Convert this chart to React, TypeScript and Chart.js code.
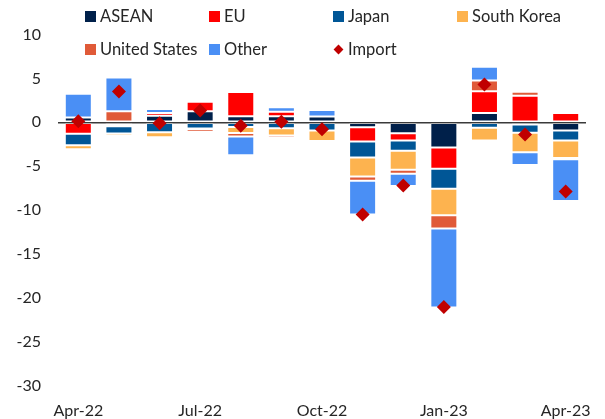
import React, { useEffect, useRef } from 'react';
import { Chart, registerables } from 'chart.js';

Chart.register(...registerables);

const months = ['Apr-22', 'May-22', 'Jun-22', 'Jul-22', 'Aug-22', 'Sep-22', 'Oct-22', 'Nov-22', 'Dec-22', 'Jan-23', 'Feb-23', 'Mar-23', 'Apr-23'];
const asean = [0.55, -0.3, 0.75, 1.25, 0.68, 0.68, 0.65, -0.57, -1.25, -2.88, 1.06, -0.25, -0.95];
const eu = [-1.3, -0.15, 0.3, 1.1, 2.77, 0.53, 0, -1.63, -0.83, -2.42, 2.46, 3.03, 1.06];
const japan = [-1.33, -0.83, -1.15, -0.7, -0.55, -0.68, -0.95, -1.82, -1.17, -2.27, -0.64, -0.95, -1.14];
const southKorea = [-0.45, -0.27, -0.55, -0.1, -0.68, -0.83, -1.2, -2.16, -2.16, -3.03, -1.44, -2.23, -1.97];
const unitedStates = [-0.05, 1.25, -0.05, -0.3, -0.38, -0.25, -0.1, -0.49, -0.45, -1.52, 1.25, 0.45, -0.15];
const other = [2.7, 3.85, 0.45, 0.1, -2.15, 0.5, 0.76, -3.83, -1.4, -8.98, 1.56, -1.44, -4.77];
const importTotal = [0.1, 3.5, -0.1, 1.35, -0.4, 0.05, -0.8, -10.5, -7.2, -21.05, 4.3, -1.4, -7.9];
const yTicks = [10, 5, 0, -5, -10, -15, -20, -25, -30];

const COLORS = {
  asean: '#00204a',
  eu: '#ff0000',
  japan: '#005696',
  southKorea: '#fdb34f',
  unitedStates: '#e05a38',
  other: '#4a8ff5',
  import: '#c00000',
};

const FONT_FAMILY = 'Lato, "Open Sans", sans-serif';
const TEXT_COLOR = '#262626';

const legendItems = [
  { label: 'ASEAN', color: COLORS.asean, col: 0, row: 0, diamond: false },
  { label: 'EU', color: COLORS.eu, col: 1, row: 0, diamond: false },
  { label: 'Japan', color: COLORS.japan, col: 2, row: 0, diamond: false },
  { label: 'South Korea', color: COLORS.southKorea, col: 3, row: 0, diamond: false },
  { label: 'United States', color: COLORS.unitedStates, col: 0, row: 1, diamond: false },
  { label: 'Other', color: COLORS.other, col: 1, row: 1, diamond: false },
  { label: 'Import', color: COLORS.import, col: 2, row: 1, diamond: true },
];

export default function App() {
  const ref = useRef<HTMLCanvasElement>(null);

  useEffect(() => {
    const canvas = ref.current;
    if (!canvas) return;
    const font = { family: FONT_FAMILY, size: 16 };
    const bar = (label: string, data: number[], color: string) => ({
      type: 'bar' as const,
      label,
      data,
      backgroundColor: color,
      borderColor: 'rgba(255,255,255,0.22)',
      borderWidth: 1,
      borderSkipped: false,
      stack: 'bars',
      order: 2,
      barPercentage: 0.665,
      categoryPercentage: 1,
    });
    const chart = new Chart(canvas, {
      type: 'bar',
      data: {
        labels: months,
        datasets: [
          bar('ASEAN', asean, COLORS.asean),
          bar('EU', eu, COLORS.eu),
          bar('Japan', japan, COLORS.japan),
          bar('South Korea', southKorea, COLORS.southKorea),
          bar('United States', unitedStates, COLORS.unitedStates),
          bar('Other', other, COLORS.other),
          {
            type: 'line' as const,
            label: 'Import',
            data: importTotal,
            showLine: false,
            pointStyle: 'rectRot',
            pointRadius: 7,
            pointHoverRadius: 7,
            pointBackgroundColor: COLORS.import,
            pointBorderColor: COLORS.import,
            pointBorderWidth: 0,
            stack: 'import',
            order: 0,
          } as any,
        ],
      },
      options: {
        responsive: false,
        animation: false,
        devicePixelRatio: 1,
        layout: { padding: { top: 34.5, right: 19, left: 0, bottom: 0 } },
        plugins: { legend: { display: false }, tooltip: { enabled: false } },
        scales: {
          x: {
            stacked: true,
            grid: { display: false },
            border: { display: false },
            ticks: {
              autoSkip: false,
              maxRotation: 0,
              minRotation: 0,
              padding: 8,
              font,
              color: TEXT_COLOR,
              callback: (_v: any, i: number) => (i % 3 === 0 ? months[i] : ''),
            },
            afterFit: (s: any) => {
              s.height = 33.5;
            },
          },
          y: {
            stacked: true,
            min: yTicks[yTicks.length - 1],
            max: yTicks[0],
            border: { display: false },
            grid: {
              drawTicks: false,
              color: (c: any) => (c.tick && c.tick.value === 0 ? '#3a3a3a' : 'rgba(0,0,0,0)'),
              lineWidth: 1.5,
            },
            ticks: { stepSize: 5, padding: 17, font, color: TEXT_COLOR },
            afterFit: (s: any) => {
              s.width = 58;
            },
          },
        },
      } as any,
    } as any);
    return () => chart.destroy();
  }, []);

  return (
    <div style={{ position: 'absolute', left: 0, top: 0, width: 605, height: 419, background: '#fff' }}>
      <canvas ref={ref} width={605} height={419} style={{ position: 'absolute', left: 0, top: 0, width: 605, height: 419 }} />
      {legendItems.map((it) => (
        <div
          key={it.label}
          style={{
            position: 'absolute',
            left: 85 + it.col * 124,
            top: it.row === 0 ? 6 : 39,
            height: 20,
            display: 'flex',
            alignItems: 'center',
            fontFamily: FONT_FAMILY,
            fontSize: 16.5,
            color: TEXT_COLOR,
            whiteSpace: 'nowrap',
            lineHeight: '20px',
          }}
        >
          {it.diamond ? (
            <span style={{ display: 'inline-block', width: 11, height: 11, position: 'relative', marginRight: 4 }}>
              <span
                style={{
                  position: 'absolute',
                  left: 2,
                  top: 2,
                  width: 7,
                  height: 7,
                  background: it.color,
                  transform: 'rotate(45deg)',
                }}
              />
            </span>
          ) : (
            <span style={{ display: 'inline-block', width: 11, height: 11, background: it.color, marginRight: 4 }} />
          )}
          <span>{it.label}</span>
        </div>
      ))}
    </div>
  );
}
